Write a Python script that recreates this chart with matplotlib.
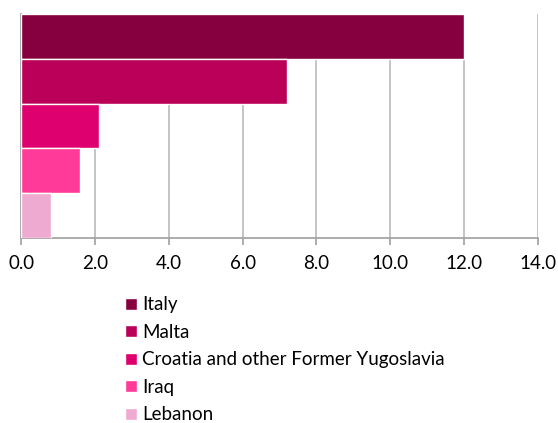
import matplotlib.pyplot as plt
from matplotlib.patches import Patch

plt.rcParams['font.family'] = ['Lato', 'DejaVu Sans']

# Data
countries = ['Italy', 'Malta', 'Croatia and other Former Yugoslavia', 'Iraq', 'Lebanon']
values = [12.0, 7.2, 2.1, 1.6, 0.8]
colors = ['#860040', '#BA0058', '#DE006E', '#FF3A98', '#EEAAD0']
xticks = [0, 2, 4, 6, 8, 10, 12, 14]

fig = plt.figure(figsize=(5.58, 4.23), dpi=100)
ax = fig.add_axes([0.038, 0.437, 0.926, 0.53])

ypos = list(range(len(countries)))[::-1]
ax.barh(ypos, values, height=1.0, color=colors, edgecolor='white', linewidth=1, zorder=3)

ax.set_xlim(0, 14)
ax.set_ylim(-0.5, 4.5)
ax.set_xticks(xticks)
ax.set_xticklabels([f'{v:.1f}' for v in xticks], fontsize=13.5)
ax.set_yticks([])
ax.grid(axis='x', color='#BFBFBF', linewidth=1.3, zorder=0)
ax.set_axisbelow(True)

for s in ['top', 'right']:
    ax.spines[s].set_visible(False)
for s in ['left', 'bottom']:
    ax.spines[s].set_color('#A6A6A6')
    ax.spines[s].set_linewidth(1.3)
ax.tick_params(axis='x', length=5, color='#A6A6A6', width=1.3, pad=7)

handles = [Patch(facecolor=c, edgecolor='white') for c in colors]
fig.legend(handles, countries, loc='upper left', bbox_to_anchor=(0.208, 0.322),
           frameon=False, fontsize=13.5, handlelength=0.6, handleheight=0.6,
           handletextpad=0.3, labelspacing=0.56, borderpad=0)

plt.savefig('out.png', dpi=100)
